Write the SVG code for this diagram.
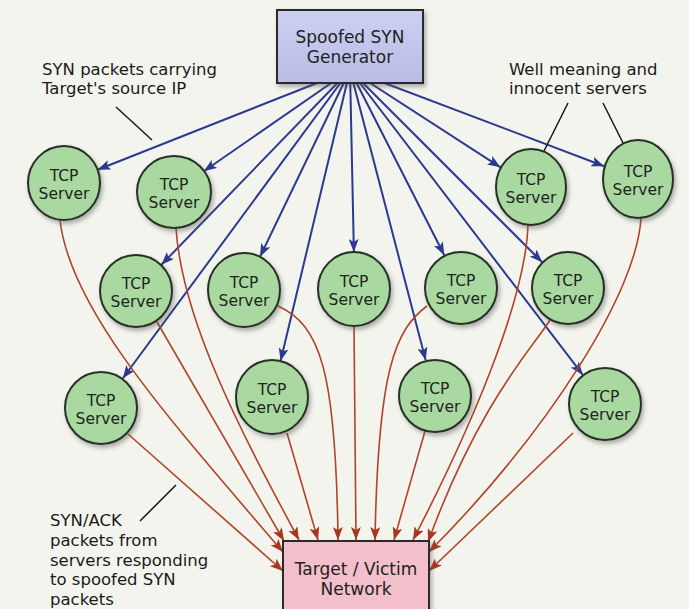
<svg xmlns="http://www.w3.org/2000/svg" width="689" height="609" viewBox="0 0 689 609">
<defs>
<style>
.bg{fill:#f4f4ee}
.syn{fill:none;stroke:#2b3a8f;stroke-width:2;marker-end:url(#ab)}
.ack{fill:none;stroke:#b0442a;stroke-width:1.6;marker-end:url(#ar)}
.lead{fill:none;stroke:#1a1a1a;stroke-width:1.5}
.srv ellipse{fill:#a9d9a0;stroke:#253025;stroke-width:2;filter:url(#sh)}
.srv text{font-family:"DejaVu Sans",Verdana,sans-serif;font-size:15.5px;fill:#1e241e;text-anchor:middle}
.box{stroke:#2a2a2a;stroke-width:2;filter:url(#sh)}
.bt{font-family:"DejaVu Sans",Verdana,sans-serif;font-size:17px;fill:#222;text-anchor:middle}
.lbl{font-family:"DejaVu Sans",Verdana,sans-serif;font-size:16.5px;fill:#1a1a1a}
</style>
<filter id="sh" x="-20%" y="-20%" width="150%" height="150%">
<feDropShadow dx="2" dy="3" stdDeviation="2" flood-color="#555" flood-opacity="0.45"/>
</filter>
<linearGradient id="gg" x1="0" y1="0" x2="0" y2="1">
<stop offset="0" stop-color="#cdd0f0"/><stop offset="0.5" stop-color="#c2c6ec"/><stop offset="1" stop-color="#b9bde6"/>
</linearGradient>
<marker id="ab" viewBox="0 0 13 10" refX="13" refY="5" markerWidth="13" markerHeight="10" markerUnits="userSpaceOnUse" orient="auto">
<path d="M0,0 L13,5 L0,10 L3,5 z" fill="#2b3a8f"/>
</marker>
<marker id="ar" viewBox="0 0 13 10" refX="13" refY="5" markerWidth="13" markerHeight="10" markerUnits="userSpaceOnUse" orient="auto">
<path d="M0,0 L13,5 L0,10 L3,5 z" fill="#a8361f"/>
</marker>
</defs>
<rect class="bg" x="0" y="0" width="689" height="609"/>

<g id="connectors">
<path class="syn" d="M350,70 L97.6,169.7"/>
<path class="syn" d="M350,70 L203.8,171.3"/>
<path class="syn" d="M350,70 L500.5,167.3"/>
<path class="syn" d="M350,70 L604.2,166.2"/>
<path class="syn" d="M350,70 L161.4,264.8"/>
<path class="syn" d="M350,70 L260,256.8"/>
<path class="syn" d="M350,70 L353.9,252"/>
<path class="syn" d="M350,70 L444.3,255.2"/>
<path class="syn" d="M350,70 L542.2,262.2"/>
<path class="syn" d="M350,70 L122.7,378.5"/>
<path class="syn" d="M350,70 L280.6,361.1"/>
<path class="syn" d="M350,70 L425.7,360.3"/>
<path class="syn" d="M350,70 L582.8,374.9"/>
<path class="ack" d="M60,220 C70,310 170,420 283,552"/>
<path class="ack" d="M176,228 C182,320 240,430 299,540"/>
<path class="ack" d="M157,322 L284,541"/>
<path class="ack" d="M287,433 L318,540"/>
<path class="ack" d="M278,306 C320,325 336,370 338,540"/>
<path class="ack" d="M354,326 L356,540"/>
<path class="ack" d="M427,306 C395,330 378,370 375,540"/>
<path class="ack" d="M425,431 L394,540"/>
<path class="ack" d="M528,224 C526,300 470,430 413,540"/>
<path class="ack" d="M550,320 C535,345 480,400 428,542"/>
<path class="ack" d="M641,217 C638,290 550,430 429,552"/>
<path class="ack" d="M128,434 L283,571"/>
<path class="ack" d="M573,433 L429,571"/>
<path class="lead" d="M116,107 L152,140"/>
<path class="lead" d="M568,103 L543,153"/>
<path class="lead" d="M603,103 L623,143"/>
<path class="lead" d="M176,485 L140,521"/>
</g>

<g id="generator">
<rect class="box" x="277" y="10" width="146" height="73" fill="url(#gg)"/>
<text class="bt" x="350" y="43">Spoofed SYN</text>
<text class="bt" x="350" y="63">Generator</text>
</g>

<g id="target">
<rect class="box" x="283" y="541" width="146" height="80" fill="#f3bfca"/>
<text class="bt" x="356" y="574.5">Target / Victim</text>
<text class="bt" x="356" y="594.5">Network</text>
</g>

<g id="srv1" class="srv"><ellipse cx="64" cy="183" rx="36" ry="37"/><text x="64" y="180.5">TCP</text><text x="64" y="199">Server</text></g>
<g id="srv2" class="srv"><ellipse cx="174" cy="192" rx="37" ry="36"/><text x="174" y="189.5">TCP</text><text x="174" y="208">Server</text></g>
<g id="srv3" class="srv"><ellipse cx="531" cy="187" rx="35" ry="38"/><text x="531" y="184.5">TCP</text><text x="531" y="203">Server</text></g>
<g id="srv4" class="srv"><ellipse cx="638" cy="179" rx="35" ry="39"/><text x="638" y="176.5">TCP</text><text x="638" y="195">Server</text></g>
<g id="srv5" class="srv"><ellipse cx="136" cy="291" rx="36" ry="36"/><text x="136" y="288.5">TCP</text><text x="136" y="307">Server</text></g>
<g id="srv6" class="srv"><ellipse cx="244" cy="290" rx="36" ry="37"/><text x="244" y="287.5">TCP</text><text x="244" y="306">Server</text></g>
<g id="srv7" class="srv"><ellipse cx="354" cy="289" rx="36" ry="37"/><text x="354" y="286.5">TCP</text><text x="354" y="305">Server</text></g>
<g id="srv8" class="srv"><ellipse cx="461" cy="288" rx="36" ry="36"/><text x="461" y="285.5">TCP</text><text x="461" y="304">Server</text></g>
<g id="srv9" class="srv"><ellipse cx="568" cy="288" rx="36" ry="36"/><text x="568" y="285.5">TCP</text><text x="568" y="304">Server</text></g>
<g id="srv10" class="srv"><ellipse cx="101" cy="408" rx="36" ry="36"/><text x="101" y="405.5">TCP</text><text x="101" y="424">Server</text></g>
<g id="srv11" class="srv"><ellipse cx="272" cy="397" rx="36" ry="37"/><text x="272" y="394.5">TCP</text><text x="272" y="413">Server</text></g>
<g id="srv12" class="srv"><ellipse cx="435" cy="396" rx="36" ry="36"/><text x="435" y="393.5">TCP</text><text x="435" y="412">Server</text></g>
<g id="srv13" class="srv"><ellipse cx="605" cy="404" rx="36" ry="36"/><text x="605" y="401.5">TCP</text><text x="605" y="420">Server</text></g>

<g id="labels">
<text class="lbl" x="42" y="74.5">SYN packets carrying</text>
<text class="lbl" x="42" y="94">Target's source IP</text>
<text class="lbl" x="509" y="74.5">Well meaning and</text>
<text class="lbl" x="509" y="94">innocent servers</text>
<text class="lbl" x="50" y="526">SYN/ACK</text>
<text class="lbl" x="50" y="546">packets from</text>
<text class="lbl" x="50" y="565.5">servers responding</text>
<text class="lbl" x="50" y="585">to spoofed SYN</text>
<text class="lbl" x="50" y="604.5">packets</text>
</g>
</svg>
